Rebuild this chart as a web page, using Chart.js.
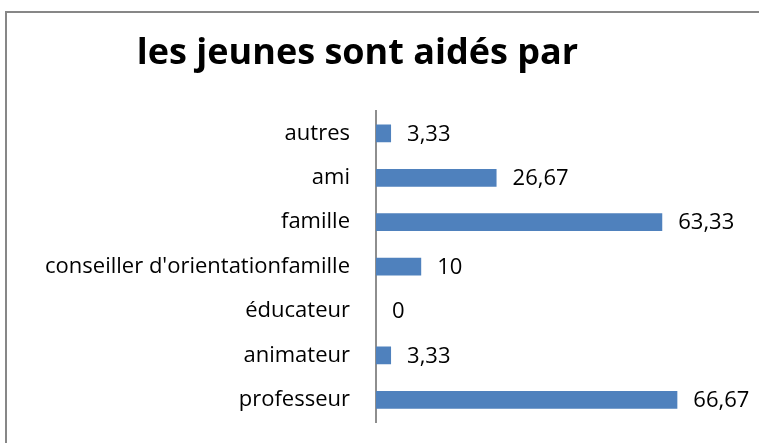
<!DOCTYPE html>
<html>
<head>
<meta charset="utf-8">
<script src="https://cdn.jsdelivr.net/npm/chart.js@4"></script>
<style>
	body { margin: 0; background: #fff; overflow: hidden; }
	#frame { position: absolute; left: 5px; top: 11px; width: 800px; height: 500px;
		border-left: 2px solid #878787; border-top: 2px solid #878787; }
	#graphCanvas { position: absolute; left: 0; top: 0; }
</style>
</head>
<body>
<div id="frame"></div>
<canvas id="graphCanvas" width="759" height="443"></canvas>
<script>
//	chart data (top to bottom as drawn)
var categories = ['autres', 'ami', 'famille', "conseiller d'orientationfamille", 'éducateur', 'animateur', 'professeur'];
var percents = [3.33, 26.67, 63.33, 10, 0, 3.33, 66.67];
var chartTitle = 'les jeunes sont aidés par';

let plotColors = {
	bar: '#4f81bd',
	axis: '#8e8e8e',
	text: '#000000'
};
let fontFamily = "'Open Sans', 'Liberation Sans', sans-serif";
let labelSize = 22;

// comma decimals, french style
var formatValue = function (v) {
	return String(v).replace('.', ',');
};

// value labels right of each bar
var valueLabels = {
	id: 'valueLabels',
	afterDatasetsDraw: function (chart) {
		var ctx = chart.ctx;
		var meta = chart.getDatasetMeta(0);
		ctx.save();
		ctx.font = labelSize + 'px ' + fontFamily;
		ctx.fillStyle = plotColors.text;
		ctx.textAlign = 'left';
		ctx.textBaseline = 'middle';
		meta.data.forEach(function (bar, i) {
			ctx.fillText(formatValue(percents[i]), bar.x + 16, bar.y + 1);
		});
		ctx.restore();
	}
};

var graphSettings = {
	type: 'bar',
	data: {
		labels: categories,
		datasets: [{
			data: percents,
			backgroundColor: plotColors.bar,
			borderWidth: 0,
			categoryPercentage: 1,
			barPercentage: 0.4
		}]
	},
	options: {
		indexAxis: 'y',
		responsive: false,
		animation: false,
		layout: { padding: { left: 0, right: 44, top: 0, bottom: 21 } },
		scales: {
			x: {
				display: false,
				min: 0,
				max: 75
			},
			y: {
				grid: { display: false, drawTicks: false },
				border: { display: true, color: plotColors.axis, width: 2 },
				ticks: {
					color: plotColors.text,
					padding: 26,
					font: { family: fontFamily, size: labelSize }
				},
				afterFit: function (scale) {
					scale.width = 376;
					scale.paddingTop = 0;
					scale.paddingBottom = 0;
				}
			}
		},
		plugins: {
			legend: { display: false },
			tooltip: { enabled: false },
			title: {
				display: true,
				text: chartTitle,
				color: plotColors.text,
				font: { family: fontFamily, size: 36, weight: 'bold' },
				padding: { top: 32, bottom: 36 }
			}
		}
	},
	plugins: [valueLabels]
};

var theGraph = new Chart(document.getElementById('graphCanvas'), graphSettings);
</script>
</body>
</html>
